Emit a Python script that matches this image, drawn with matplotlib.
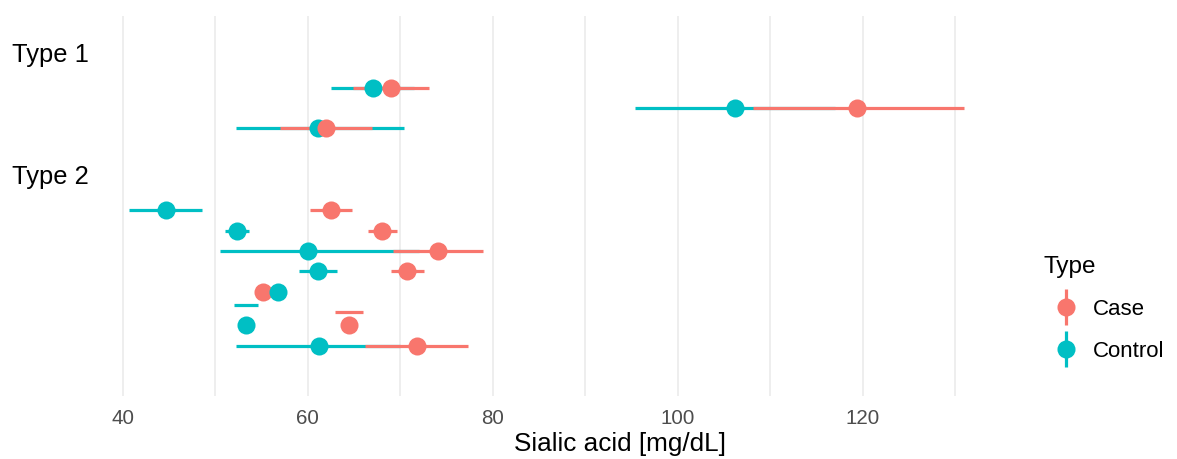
import numpy as np
import matplotlib
matplotlib.use("Agg")
import matplotlib.pyplot as plt
from matplotlib.lines import Line2D

plt.rcParams['font.family'] = ['Liberation Sans', 'DejaVu Sans']

nan = np.nan

# group labels on the y axis and their positions
group_labels = ["Type 1", "Type 2"]
group_y = [0.0, 6.01]

# one entry per study row
point_y = [1.72, 2.71, 3.69, 7.73, 8.77, 9.75, 10.74, 11.77, 13.41, 14.44]
case_x = [69.0, 119.4, 62.0, 62.5, 68.0, 74.1, 70.7, 55.1, 64.4, 71.8]
ctrl_x = [67.0, 106.2, 61.1, 44.7, 52.3, 60.0, 61.1, 56.8, 53.3, 61.2]

case_bar_y = [1.72, 2.71, 3.69, 7.73, 8.77, 9.75, 10.74, 11.77, 12.76, 14.44]
case_lo = [64.9, 108.2, 57.0, 60.2, 66.5, 69.2, 69.0, 54.7, 62.9, 66.2]
case_hi = [73.1, 131.0, 66.9, 64.8, 69.6, 78.9, 72.6, 55.5, 66.0, 77.3]

ctrl_bar_y = [1.72, 2.71, 3.69, 7.73, 8.77, 9.75, 10.74, 11.77, 12.41, 14.44]
ctrl_lo = [62.5, 95.4, 52.2, 40.6, 51.0, 50.5, 59.0, 56.4, 52.0, 52.2]
ctrl_hi = [71.5, 117.0, 70.4, 48.5, 53.6, 72.0, 63.1, 57.2, 54.6, 70.0]

# rows where the control point sits on top of the case point
ctrl_on_top = [7]

case_col = '#F8766D'
ctrl_col = '#00BFC4'

fig = plt.figure(figsize=(11.77, 4.59), dpi=100)
ax = fig.add_axes([91.6 / 1177, 1 - 396 / 459, 913.3 / 1177, 380 / 459])

ax.hlines(ctrl_bar_y, ctrl_lo, ctrl_hi, color=ctrl_col, lw=2.3, zorder=2)
ax.hlines(case_bar_y, case_lo, case_hi, color=case_col, lw=2.3, zorder=3)

for i in range(len(point_y)):
    zc, zk = (5, 4) if i in ctrl_on_top else (4, 5)
    ax.plot(ctrl_x[i], point_y[i], 'o', ms=13, color=ctrl_col, mew=0, zorder=zc)
    ax.plot(case_x[i], point_y[i], 'o', ms=13, color=case_col, mew=0, zorder=zk)

ax.set_xlim(36.6, 135.4)
ax.set_ylim(16.9, -1.82)
ax.set_xticks([40, 60, 80, 100, 120])
ax.set_xticks(np.arange(50, 140, 20), minor=True)
ax.set_yticks(group_y)
ax.set_yticklabels(group_labels)

ax.grid(axis='x', which='both', color='#EBEBEB', lw=1.2)
ax.set_axisbelow(True)
for s in ax.spines.values():
    s.set_visible(False)
ax.tick_params(axis='both', which='both', length=0)
ax.tick_params(axis='x', labelsize=14.8, labelcolor='#4D4D4D', pad=9)
ax.tick_params(axis='y', labelsize=18.4, labelcolor='black', pad=2)
ax.set_xlabel('Sialic acid [mg/dL]', fontsize=18.8)
ax.xaxis.set_label_coords((620 - 91.6) / 913.3, -0.096)
ax.xaxis.label.set_va('top')

handles = []
for c in [case_col, ctrl_col]:
    handles.append((Line2D([], [], marker='|', ms=26, mew=2.3, color=c, ls=''),
                    Line2D([], [], marker='o', ms=13, mew=0, color=c, ls='')))
leg = fig.legend(handles, ['Case', 'Control'], title='Type',
                 loc='upper left', bbox_to_anchor=(1024 / 1177, 1 - 236 / 459),
                 frameon=False, fontsize=16, title_fontsize=17.5,
                 labelspacing=0.95, handlelength=2.0, handletextpad=0.2,
                 alignment='left')

fig.savefig('out.png', dpi=100)
